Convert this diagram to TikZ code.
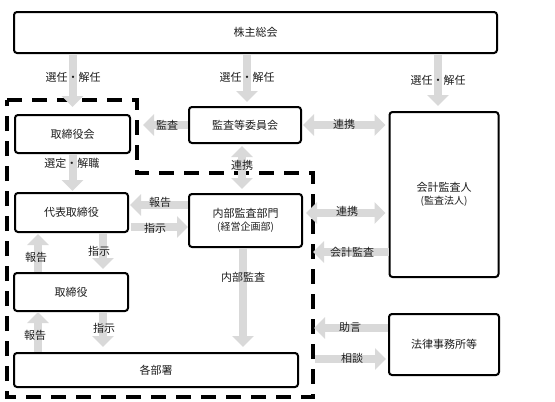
\documentclass[tikz,border=0pt]{standalone}
\usepackage{fontspec}
\setmainfont{Noto Sans CJK JP}
\usetikzlibrary{arrows.meta}
\definecolor{arrgray}{HTML}{D9D9D9}
\definecolor{txt}{HTML}{1E1E1E}
\begin{document}
\begin{tikzpicture}[x=1pt,y=-1pt,
 box/.style={draw=black, line width=2pt, rounded corners=3pt, fill=white, inner sep=0pt, font=\fontsize{11}{14}\selectfont, text=txt, align=center},
 ga/.style={draw=arrgray, line width=8pt, -{Triangle[width=21pt,length=11pt]}},
 gab/.style={draw=arrgray, line width=8pt, {Triangle[width=21pt,length=11pt]}-{Triangle[width=21pt,length=11pt]}},
 lbl/.style={font=\fontsize{11}{13}\selectfont, text=txt, inner sep=0pt},
 dashbox/.style={draw=black, line width=4pt, dash pattern=on 15pt off 10pt}
]
\useasboundingbox (0,0) rectangle (555,402);
\fill[white] (0,0) rectangle (555,402);
\draw[dashbox] (7,100) -- (137,100) -- (137,173) -- (313,173) -- (313,397) -- (7,397) -- cycle;
\coordinate (dr) at (313,0);

\node[box, minimum width=483pt, minimum height=41pt] (sogo) at (255.5,32.5) {株主総会};
\node[box, minimum width=115pt, minimum height=38pt] (torikai) at (72.5,134) {取締役会};
\node[box, minimum width=112pt, minimum height=36pt] (kansa) at (245,125) {監査等委員会};
\node[box, minimum width=109pt, minimum height=165pt] (kaikei) at (444,194.5) {会計監査人\\[-1pt]{\fontsize{10}{12}\selectfont (監査法人)}};
\node[box, minimum width=110pt, minimum height=61pt] (houritsu) at (444,344.5) {法律事務所等};
\node[box, minimum width=113pt, minimum height=39pt] (daihyo) at (71.5,212.5) {代表取締役};
\node[box, minimum width=113pt, minimum height=53pt] (naibu) at (245.5,220.5) {内部監査部門\\[-1pt]{\fontsize{10}{12}\selectfont (経営企画部)}};
\node[box, minimum width=114pt, minimum height=38pt] (tori) at (71,292) {取締役};
\node[box, minimum width=284pt, minimum height=34pt] (kakubu) at (156,370) {各部署};

% arrows from 株主総会
\draw[ga] ([yshift=-1pt]sogo.south -| torikai.north) -- ([yshift=7pt]torikai.north);
\draw[ga] ([xshift=2pt,yshift=-1pt]sogo.south -| kansa.north) -- ([xshift=2pt,yshift=4pt]kansa.north);
\draw[ga] ([xshift=-6pt,yshift=-1pt]sogo.south -| kaikei.north) -- ([xshift=-6pt,yshift=5pt]kaikei.north);
\node[lbl] (l1) at (73,77) {選任・解任};
\node[lbl] (l2) at (247,77) {選任・解任};
\node[lbl] (l3) at (438,80) {選任・解任};

% 監査等委員会
\draw[ga] (kansa.west) -- ([xshift=12pt]kansa.west -| torikai.east);
\node[lbl] (l4) at (167,125) {監査};
\draw[gab] ([xshift=1pt]kansa.east) -- ([xshift=-3pt]kansa.east -| kaikei.west);
\node[lbl] (l5) at (344,124) {連携};
\draw[gab] ([xshift=-3pt,yshift=-2pt]kansa.south) -- ([xshift=-3pt,yshift=4pt]kansa.south |- naibu.north);
\node[lbl] (l6) at (242,165) {連携};

% 取締役会 -> 代表取締役
\draw[ga] (torikai.south) -- ([yshift=1pt]torikai.south |- daihyo.north);
\node[lbl] (l7) at (72,163) {選定・解職};

% 内部監査部門 <-> 代表取締役
\draw[ga] ([yshift=15.5pt]naibu.west) -- ([yshift=15.5pt,xshift=1pt]naibu.west -| daihyo.east);
\node[lbl] (l8) at (160,202) {報告};
\draw[ga] ([yshift=-6.5pt,xshift=2pt]naibu.west -| daihyo.east) -- ([yshift=-6.5pt]naibu.west);
\node[lbl] (l9) at (155,228) {指示};

% 代表取締役 <-> 取締役
\draw[ga] ([xshift=31.5pt]daihyo.south) -- ([xshift=31.5pt,yshift=3pt]daihyo.south |- tori.north);
\node[lbl] (l10) at (99,251) {指示};
\draw[ga] ([xshift=-33pt]tori.north) -- ([xshift=-33pt,yshift=-1pt]tori.north |- daihyo.south);
\node[lbl] (l11) at (36,257) {報告};

% 取締役 <-> 各部署
\draw[ga] ([xshift=32pt]tori.south) -- ([xshift=32pt,yshift=5pt]tori.south |- kakubu.north);
\node[lbl] (l12) at (104,328) {指示};
\draw[ga] ([xshift=-33pt]tori.south |- kakubu.north) -- ([xshift=-33pt]tori.south);
\node[lbl] (l13) at (35,335) {報告};

% 内部監査
\draw[ga] ([xshift=-2.5pt]naibu.south) -- ([xshift=-2.5pt,yshift=5pt]naibu.south |- kakubu.north);
\node[lbl] (l14) at (243,277) {内部監査};

% 会計監査人
\draw[gab] ([xshift=3pt,yshift=7.5pt]naibu.east) -- ([yshift=7.5pt,xshift=-3pt]naibu.east -| kaikei.west);
\node[lbl] (l15) at (347,211) {連携};
\draw[ga] ([yshift=-57.5pt]kaikei.west) -- ([yshift=-57.5pt]kaikei.west -| dr);
\node[lbl] (l16) at (352,252) {会計監査};

% 法律事務所等
\draw[ga] ([yshift=16.5pt]houritsu.west) -- ([yshift=16.5pt,xshift=1pt]houritsu.west -| dr);
\node[lbl] (l17) at (350,327) {助言};
\draw[ga] ([yshift=-14.5pt,xshift=2pt]houritsu.west -| dr) -- ([yshift=-14.5pt,xshift=-2pt]houritsu.west);
\node[lbl] (l18) at (352,358) {相談};
\end{tikzpicture}
\end{document}
